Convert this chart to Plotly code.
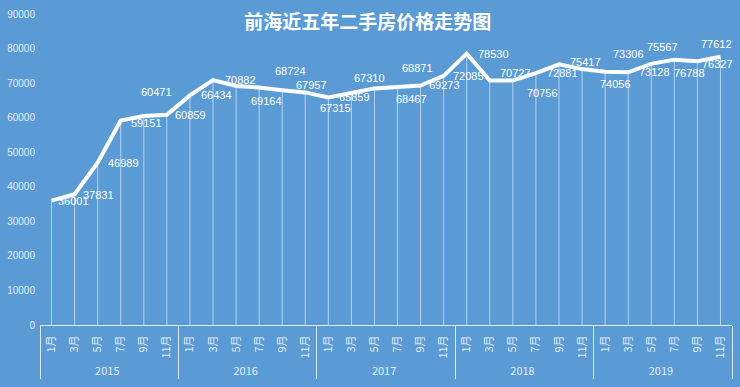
import plotly.graph_objects as go

years = ["2015"] * 6 + ["2016"] * 6 + ["2017"] * 6 + ["2018"] * 6 + ["2019"] * 6
months = ["1月", "3月", "5月", "7月", "9月", "11月"] * 5
prices = [36001, 37831, 46989, 59151, 60471, 60859,
          66434, 70882, 69164, 68724, 67957, 67315,
          65859, 67310, 68467, 68871, 69273, 72085,
          78530, 70727, 70756, 72881, 75417, 74056,
          73306, 73128, 75567, 76788, 76327, 77612]
title_text = "前海近五年二手房价格走势图"

# label offsets (pixels, dx right, dy down) for readability like original
label_offsets = [(22, 0), (24, 1), (26, 0), (26, 2), (13, -24), (24, 0),
                 (27, 0), (27, 0), (30, 15), (31, -17), (29, -5), (30, 16),
                 (26, 0), (18, -14), (37, 11), (20, -19), (24, -1), (25, 0),
                 (27, 0), (26, -8), (30, 12), (27, 0), (26, -2), (33, 15),
                 (23, -18), (26, 0), (11, -17), (15, 13), (20, 3), (-4, -13)]

BG = "#5B9BD5"
TXT = "rgba(255,255,255,0.85)"
FONT = "Liberation Sans, Noto Sans CJK SC"

fig = go.Figure()
fig.add_trace(go.Scatter(
    x=[years, months], y=prices, mode="lines",
    line=dict(color="white", width=4),
    error_y=dict(type="data", symmetric=False, array=[0] * len(prices),
                 arrayminus=prices, color="rgba(255,255,255,0.55)",
                 thickness=1, width=0),
    hoverinfo="skip", showlegend=False,
))

for i, (v, (dx, dy)) in enumerate(zip(prices, label_offsets)):
    fig.add_annotation(x=[years[i], months[i]], y=v, text=str(v), showarrow=False,
                       xref="x", yref="y", xshift=dx, yshift=-dy,
                       font=dict(color="white", size=11, family=FONT))

fig.update_layout(
    width=740, height=387,
    margin=dict(l=40, r=8, t=14, b=62),
    paper_bgcolor=BG, plot_bgcolor=BG,
    title=dict(text="<b>" + title_text + "</b>", x=0.497, y=0.943,
               xanchor="center", yanchor="middle",
               font=dict(color="white", size=19, family="Noto Sans CJK SC")),
    font=dict(family=FONT, color=TXT, size=10),
)
fig.update_xaxes(type="multicategory", range=[-0.5, len(prices) - 0.5],
                 showline=True, linecolor="rgba(255,255,255,0.8)",
                 linewidth=1, showgrid=False, tickangle=-90, ticks="",
                 ticklabelstandoff=5,
                 showdividers=True, dividercolor="rgba(255,255,255,0.8)", dividerwidth=1,
                 tickfont=dict(color=TXT, size=11, family="Noto Sans CJK SC"),
                 automargin=False)
fig.update_yaxes(range=[0, 90000], dtick=10000, tickformat="d", showgrid=False,
                 zeroline=False, showline=False, ticklabelstandoff=4,
                 tickfont=dict(color=TXT, size=10),
                 automargin=False)

fig.write_html("out.html", config={"displayModeBar": False},
               post_script="document.body.style.margin='0';")
